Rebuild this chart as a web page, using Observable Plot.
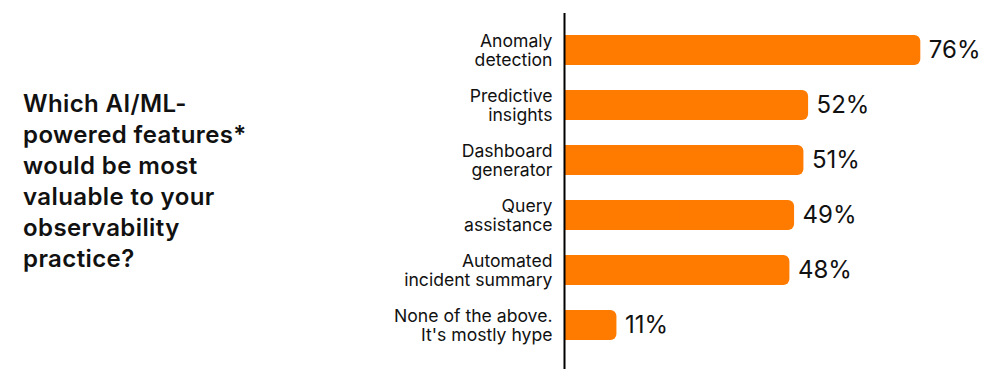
<!DOCTYPE html>
<html>
<head>
<meta charset="utf-8">
<script src="https://cdn.jsdelivr.net/npm/d3@7"></script>
<script src="https://cdn.jsdelivr.net/npm/@observablehq/plot@0.6"></script>
<style>
  html, body { margin: 0; padding: 0; background: #fff; }
  #wrap { position: relative; width: 1002px; height: 378px; font-family: Inter, "Noto Sans", sans-serif; }
  #title { position: absolute; left: 23px; top: 88px; width: 270px; font-size: 24px; line-height: 31px; font-weight: 600; color: #111; letter-spacing: 0.4px; }
  #chart { position: absolute; left: 0; top: 0; }
</style>
</head>
<body>
<div id="wrap">
  <div id="title">Which AI/ML-<br>powered features*<br>would be most<br>valuable to your<br>observability<br>practice?</div>
  <div id="chart"></div>
</div>
<script>
const categories = [
  "Anomaly detection",
  "Predictive insights",
  "Dashboard generator",
  "Query assistance",
  "Automated incident summary",
  "None of the above. It's mostly hype"
];
const tickLabels = [
  "Anomaly\ndetection",
  "Predictive\ninsights",
  "Dashboard\ngenerator",
  "Query\nassistance",
  "Automated\nincident summary",
  "None of the above.\nIt's mostly hype"
];
const values = [76, 52, 51, 49, 48, 11];

const data = categories.map((c, i) => ({category: c, value: values[i], half: values[i] / 2, label: values[i] + "%"}));
const labelOf = new Map(categories.map((c, i) => [c, tickLabels[i]]));
const orange = "#ff7b00";

const chart = Plot.plot({
  width: 1002,
  height: 378,
  marginLeft: 565,
  marginRight: 63,
  marginTop: 10,
  marginBottom: 12,
  style: {fontFamily: "Inter, 'Noto Sans', sans-serif", color: "#111", background: "transparent"},
  x: {domain: [0, 80], axis: null},
  y: {domain: categories, padding: 0.45, label: null},
  marks: [
    Plot.barX(data, {x: "value", y: "category", fill: orange, rx: 6}),
    Plot.barX(data, {x: "half", y: "category", fill: orange}),
    Plot.ruleX([0], {stroke: "#000", strokeWidth: 2, dx: -1, insetTop: 3, insetBottom: -3}),
    Plot.text(data, {x: "value", y: "category", text: "label", dx: 8, textAnchor: "start", fontSize: 24, fill: "#111"}),
    Plot.axisY({tickSize: 0, tickPadding: 13, fontSize: 17.6, lineHeight: 1.1, tickFormat: d => labelOf.get(d), label: null, fill: "#111"})
  ]
});
document.getElementById("chart").appendChild(chart);
</script>
</body>
</html>
